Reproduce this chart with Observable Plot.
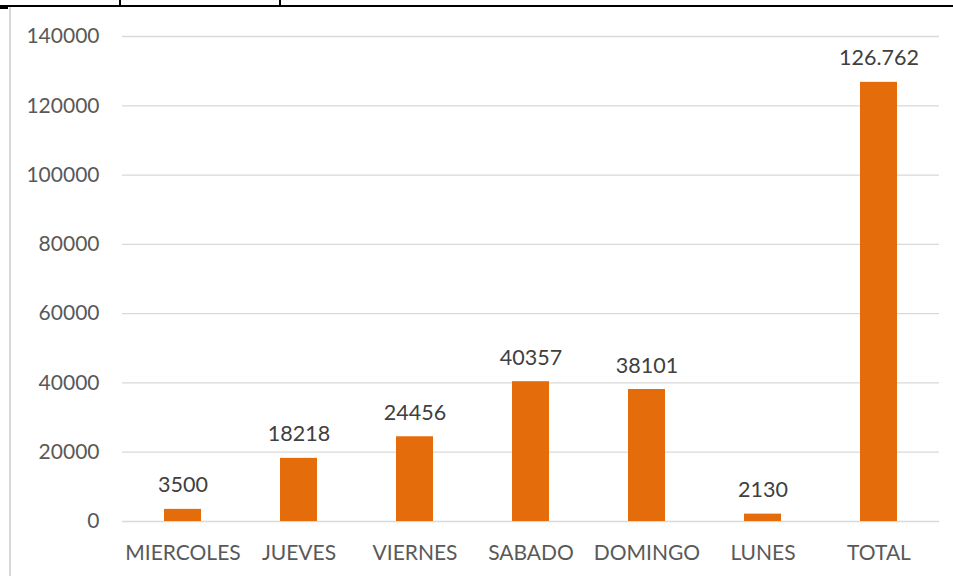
<!DOCTYPE html>
<html><head><meta charset="utf-8">
<script src="https://cdn.jsdelivr.net/npm/d3@7"></script>
<script src="https://cdn.jsdelivr.net/npm/@observablehq/plot@0.6"></script>
<style>
html,body{margin:0;padding:0;background:#fff;}
#wrap{position:relative;width:953px;height:576px;overflow:hidden;}
#chart{position:absolute;left:0;top:0;}
.deco{position:absolute;background:#000;}
</style></head>
<body><div id="wrap"><div id="chart"></div>
<div class="deco" style="left:0;top:5px;width:953px;height:2px"></div>
<div class="deco" style="left:119px;top:0;width:2px;height:6px"></div>
<div class="deco" style="left:279px;top:0;width:2px;height:6px"></div>
<div class="deco" style="left:0;top:7px;width:8px;height:2px"></div>
<div style="position:absolute;left:9px;top:7px;width:2px;height:569px;background:#d9d9d9"></div>
</div>
<script>
const categories = ["MIERCOLES","JUEVES","VIERNES","SABADO","DOMINGO","LUNES","TOTAL"];
const values = [3500,18218,24456,40357,38101,2130,126762];
const valueLabels = ["3500","18218","24456","40357","38101","2130","126.762"];
const yTicks = [0,20000,40000,60000,80000,100000,120000,140000];

const data = categories.map((c,i)=>({cat:c, v:values[i], label:valueLabels[i]}));
const font = "Lato, 'Open Sans', sans-serif";
const chart = Plot.plot({
  width:953, height:576,
  marginLeft:122, marginRight:14, marginTop:36, marginBottom:55,
  style:{fontFamily:font, fontSize:"21px", color:"#595959", background:"transparent"},
  x:{domain:categories, paddingInner:0.685, paddingOuter:0.3425, label:null},
  y:{domain:[0,140000], label:null},
  marks:[
    Plot.gridY(yTicks,{stroke:"#d9d9d9", strokeOpacity:1, strokeWidth:1.3}),
    Plot.barY(data,{x:"cat", y:"v", fill:"#E46C0A"}),
    Plot.text(data,{x:"cat", y:"v", text:"label", lineAnchor:"bottom", dy:-17, fontSize:21.5, fill:"#404040"}),
    Plot.axisX({tickSize:0, tickPadding:24, fontSize:21, fill:"#595959"}),
    Plot.axisY({ticks:yTicks, tickFormat:d=>String(d), tickSize:0, tickPadding:23, fontSize:21, fill:"#595959"})
  ]
});
document.getElementById("chart").appendChild(chart);
</script></body></html>
